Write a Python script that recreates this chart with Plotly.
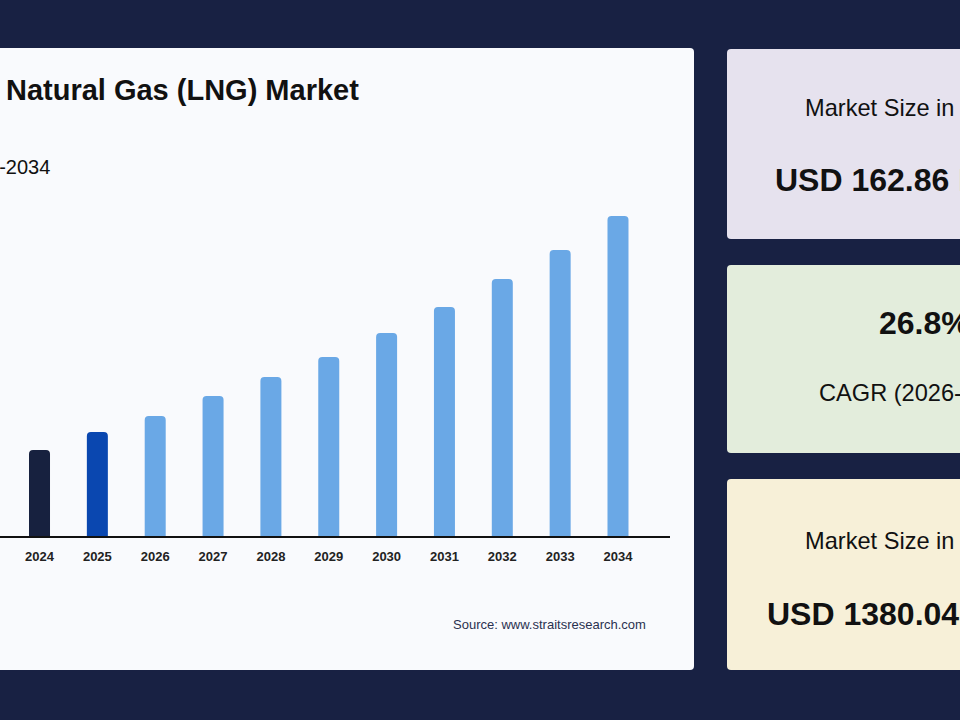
import plotly.graph_objects as go

# bar heights are relative (the source draws them not to scale)
years = ['2024', '2025', '2026', '2027', '2028', '2029', '2030', '2031', '2032', '2033', '2034']
bar_height = [86, 104, 120, 140, 159, 179, 203, 229, 257, 286, 320]

title_text = 'Liquefied Natural Gas (LNG) Market'
subtitle_text = 'Market Size, 2024-2034'
source_text = 'Source: www.straitsresearch.com'

card_labels = ['Market Size in 2025', 'CAGR (2026-2034)', 'Market Size in 2034']
card_values = ['USD 162.86 Billion', '26.8%', 'USD 1380.04 Billion']

W, H = 960, 720
NAVY = '#182143'
FONT = 'Liberation Sans'


def px(x):
    return x / W


def py(y):
    return 1 - y / H


def rounded_rect(x0, y0, x1, y1, r=4):
    # path in paper coords, corners in pixels
    rx, ry = r / W, r / H
    a, b, c, d = px(x0), py(y0), px(x1), py(y1)
    return (f'M {a + rx},{b} L {c - rx},{b} Q {c},{b} {c},{b - ry} '
            f'L {c},{d + ry} Q {c},{d} {c - rx},{d} L {a + rx},{d} '
            f'Q {a},{d} {a},{d + ry} L {a},{b - ry} Q {a},{b} {a + rx},{b} Z')


colors = []
for y in years:
    if y == '2024':
        colors.append('#17213f')
    elif y == '2025':
        colors.append('#0a47b0')
    else:
        colors.append('#6aa8e6')

fig = go.Figure()
fig.add_trace(go.Bar(x=years, y=bar_height, width=0.363,
                     marker=dict(color=colors, cornerradius=4, line=dict(width=0)),
                     hoverinfo='x', showlegend=False))

shapes = []
# main white panel
shapes.append(dict(type='path', xref='paper', yref='paper', path=rounded_rect(-20, 48, 694, 670, 4),
                   fillcolor='#f9fafd', line=dict(width=0), layer='below'))
# right cards
card_fill = ['#e6e2ee', '#e3eddc', '#f7f0d8']
card_y = [(49, 239), (265, 453), (479, 670)]
for (y0, y1), fc in zip(card_y, card_fill):
    shapes.append(dict(type='path', xref='paper', yref='paper', path=rounded_rect(727, y0, 1100, y1, 4),
                       fillcolor=fc, line=dict(width=0), layer='below'))

annotations = [
    dict(text=f'<b>{title_text}</b>', x=px(361), y=py(90), xanchor='right', yanchor='middle',
         font=dict(size=29, color='#111111', family=FONT)),
    dict(text=subtitle_text, x=px(52), y=py(167), xanchor='right', yanchor='middle',
         font=dict(size=20, color='#111111', family=FONT)),
    dict(text=source_text, x=px(648), y=py(624), xanchor='right', yanchor='middle',
         font=dict(size=13, color='#2a3150', family=FONT)),
]

# card texts: label / value positions (left edge, centre y)
card_text = [
    (card_labels[0], False, 803, 108),
    (card_values[0], True, 773, 180),
    (card_values[1], True, 877, 323),
    (card_labels[1], False, 817, 393),
    (card_labels[2], False, 803, 541),
    (card_values[2], True, 765, 614),
]
for txt, bold, x, y in card_text:
    annotations.append(dict(text=f'<b>{txt}</b>' if bold else txt, x=px(x), y=py(y),
                            xanchor='left', yanchor='middle',
                            font=dict(size=32 if bold else 23.6, color='#111111', family=FONT)))

for a in annotations:
    a.update(xref='paper', yref='paper', showarrow=False)

fig.update_layout(
    width=W, height=H,
    margin=dict(l=0, r=0, t=0, b=0),
    paper_bgcolor=NAVY,
    plot_bgcolor='rgba(0,0,0,0)',
    shapes=shapes,
    annotations=annotations,
    bargap=0.6,
    xaxis=dict(domain=[0, px(670)], range=[-0.683, 10.899], type='category',
               showline=True, linecolor='#111111', linewidth=2, showgrid=False, zeroline=False,
               ticks='outside', ticklen=7, tickcolor='rgba(0,0,0,0)',
               tickfont=dict(size=13, color='#222222', family=FONT, weight='bold'),
               fixedrange=True),
    yaxis=dict(domain=[1 - 536 / H, 1 - 200 / H], range=[0, 336], visible=False, fixedrange=True),
)

# drop the page's default 8px body margin so the figure sits at the window's corner
fig.write_html('out.html', config={'displayModeBar': False},
               post_script="document.body.style.margin='0';")
